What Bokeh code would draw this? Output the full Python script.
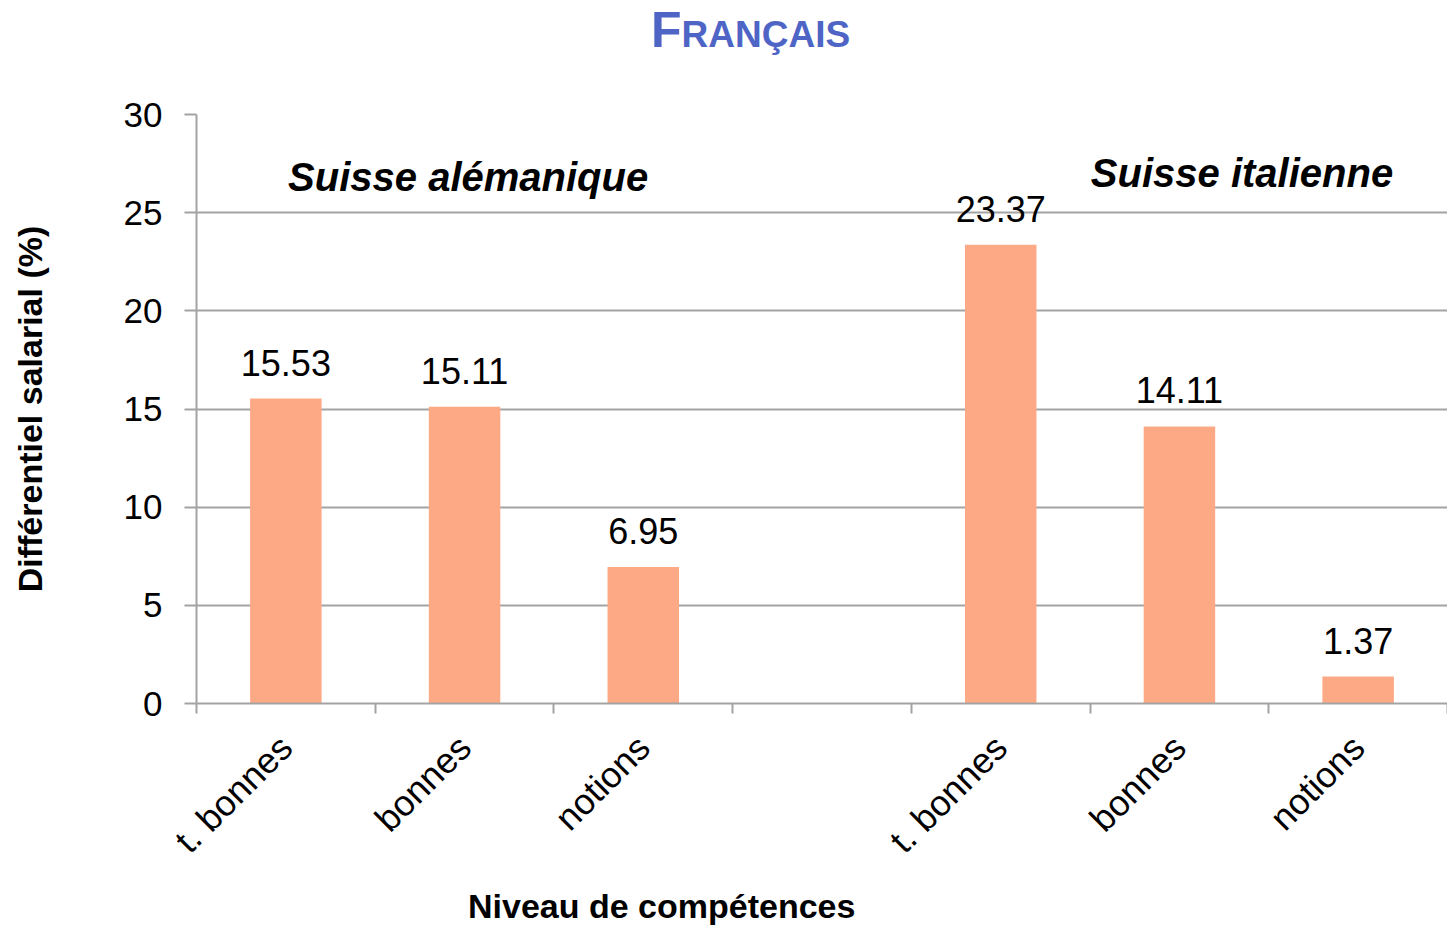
import math
from bokeh.plotting import figure
from bokeh.models import ColumnDataSource, FixedTicker, Range1d, Label, Div
from bokeh.layouts import column
from bokeh.core.properties import value
from bokeh.embed import file_html
from bokeh.resources import INLINE

# ---- data ----
categories = ["t. bonnes", "bonnes", "notions", "", "t. bonnes", "bonnes", "notions"]
values = [15.53, 15.11, 6.95, None, 23.37, 14.11, 1.37]
region_labels = ["Suisse alémanique", "Suisse italienne"]
y_ticks = [0, 5, 10, 15, 20, 25, 30]
title_text = "Français"
x_title = "Niveau de compétences"
y_title = "Différentiel salarial (%)"

FONT = "Liberation Sans"
BAR = "#FDA985"
GRID = "#A3A3A3"
BLUE = "#4E65C6"

xs = [i + 0.5 for i, v in enumerate(values) if v is not None]
vs = [v for v in values if v is not None]
src = ColumnDataSource(dict(x=xs, top=vs, lab=[f"{v:.2f}" for v in vs]))

TITLE_H = 60
XLAB_H = 55

# ---- title (small caps) ----
title_div = Div(
    text=(f'<div style="font-family:\'{FONT}\';font-weight:bold;color:{BLUE};'
          f'line-height:60px;height:60px;white-space:nowrap;padding-left:651px;">'
          f'<span style="font-size:50px">{title_text[0].upper()}</span>'
          f'<span style="font-size:37px">{title_text[1:].upper()}</span></div>'),
    width=1447, height=TITLE_H, margin=(0, 0, 0, 0))

p = figure(frame_width=1251, frame_height=589, output_backend="svg", toolbar_location=None,
           x_range=Range1d(0, len(categories)), y_range=Range1d(0, 30),
           min_border_left=196, min_border_top=114 - TITLE_H, min_border_bottom=170,
           min_border_right=0, margin=(0, 0, 0, 0))
p.outline_line_color = None
p.background_fill_color = "white"

p.vbar(x="x", top="top", width=0.4, source=src, color=BAR, line_color=None)
p.text(x="x", y="top", text="lab", source=src, text_align="center", text_baseline="alphabetic",
       y_offset=-36, text_font=value(FONT), text_font_size="36px", text_color="black")

# y axis
ya = p.yaxis[0]
ya.ticker = FixedTicker(ticks=y_ticks)
ya.major_tick_out = 12
ya.major_tick_in = 0
ya.minor_tick_out = 0
ya.minor_tick_in = 0
ya.axis_line_color = GRID
ya.axis_line_width = 2
ya.major_tick_line_color = GRID
ya.major_tick_line_width = 2
ya.major_label_text_font = FONT
ya.major_label_text_font_size = "35px"
ya.major_label_text_color = "black"
ya.major_label_standoff = 22
ya.axis_label = y_title
ya.axis_label_text_font = FONT
ya.axis_label_text_font_style = "bold"
ya.axis_label_text_font_size = "34px"
ya.axis_label_text_color = "black"
ya.axis_label_standoff = 72

p.ygrid.ticker = FixedTicker(ticks=y_ticks)
p.ygrid.grid_line_color = GRID
p.ygrid.grid_line_width = 2
p.xgrid.grid_line_color = None

# x axis
centers = [i + 0.5 for i, c in enumerate(categories) if c]
xa = p.xaxis[0]
xa.ticker = FixedTicker(ticks=centers, minor_ticks=list(range(len(categories) + 1)))
xa.major_label_overrides = {i + 0.5: c for i, c in enumerate(categories) if c}
xa.major_tick_out = 0
xa.major_tick_in = 0
xa.minor_tick_out = 10
xa.minor_tick_in = 0
xa.minor_tick_line_color = GRID
xa.minor_tick_line_width = 2
xa.axis_line_color = GRID
xa.axis_line_width = 2
xa.major_label_orientation = math.pi / 4
xa.major_label_text_font = FONT
xa.major_label_text_font_size = "36px"
xa.major_label_text_color = "black"
xa.major_label_standoff = 28

# region labels
p.add_layout(Label(x=1.52, y=26.8, text=region_labels[0], text_align="center", text_baseline="alphabetic",
                   text_font=FONT, text_font_style="bold italic", text_font_size="40px", text_color="black"))
p.add_layout(Label(x=5.85, y=27.0, text=region_labels[1], text_align="center", text_baseline="alphabetic",
                   text_font=FONT, text_font_style="bold italic", text_font_size="40px", text_color="black"))

# x axis title (offset left as in reference)
xlab_div = Div(
    text=(f'<div style="font-family:\'{FONT}\';font-weight:bold;font-size:34px;color:black;'
          f'line-height:40px;padding-top:8px;white-space:nowrap;padding-left:468px;">{x_title}</div>'),
    width=1447, height=XLAB_H, margin=(0, 0, 0, 0))

layout = column(title_div, p, xlab_div, spacing=0, margin=(0, 0, 0, 0))
open("out.html", "w").write(file_html(layout, INLINE))
